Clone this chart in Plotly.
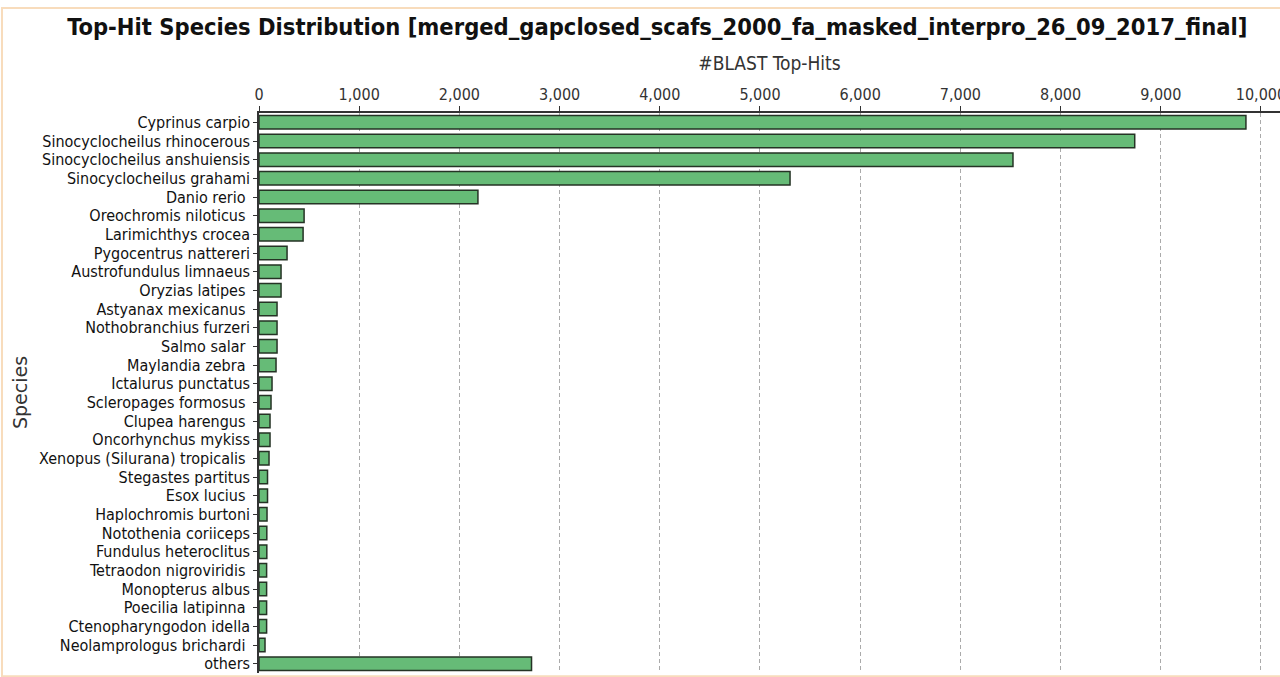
import plotly.graph_objects as go

species = [
    "Cyprinus carpio", "Sinocyclocheilus rhinocerous", "Sinocyclocheilus anshuiensis",
    "Sinocyclocheilus grahami", "Danio rerio ", "Oreochromis niloticus ",
    "Larimichthys crocea", "Pygocentrus nattereri", "Austrofundulus limnaeus",
    "Oryzias latipes ", "Astyanax mexicanus ", "Nothobranchius furzeri",
    "Salmo salar ", "Maylandia zebra ", "Ictalurus punctatus",
    "Scleropages formosus ", "Clupea harengus ", "Oncorhynchus mykiss",
    "Xenopus (Silurana) tropicalis ", "Stegastes partitus", "Esox lucius ",
    "Haplochromis burtoni", "Notothenia coriiceps", "Fundulus heteroclitus",
    "Tetraodon nigroviridis ", "Monopterus albus", "Poecilia latipinna ",
    "Ctenopharyngodon idella", "Neolamprologus brichardi ", "others",
]
top_hits = [
    9850, 8740, 7525, 5300, 2185, 450, 440, 280, 220, 220,
    180, 180, 180, 170, 130, 120, 110, 110, 100, 85,
    85, 80, 78, 78, 76, 76, 76, 76, 60, 2720,
]
x_ticks = [0, 1000, 2000, 3000, 4000, 5000, 6000, 7000, 8000, 9000, 10000]
x_tick_text = ["0", "1,000", "2,000", "3,000", "4,000", "5,000", "6,000",
               "7,000", "8,000", "9,000", "10,000"]

COND = "DejaVu Sans Condensed, DejaVu Sans, sans-serif"

fig = go.Figure(go.Bar(
    x=top_hits, y=species, orientation="h",
    marker=dict(color="#66bb77", line=dict(color="#253325", width=1.5)),
    width=0.72,
))

fig.update_layout(
    width=1280, height=677,
    margin=dict(l=259, r=0, t=113, b=4),
    paper_bgcolor="white", plot_bgcolor="white",
    showlegend=False,
    title=dict(
        text="<b>Top-Hit Species Distribution [merged_gapclosed_scafs_2000_fa_masked_interpro_26_09_2017_final]</b>",
        x=0.5135, xanchor="center", y=0.96, yanchor="middle",
        font=dict(family=COND, size=23.5, color="#111111"),
    ),
    font=dict(family=COND, size=16, color="#222222"),
)

fig.update_xaxes(
    side="top", range=[0, 10190], automargin=False,
    tickvals=x_ticks, ticktext=x_tick_text,
    tickfont=dict(family=COND, size=16, color="#333333"),
    ticklabeloverflow="allow",
    ticks="outside", ticklen=5, tickcolor="#333333",
    showline=True, linecolor="#333333", linewidth=1.5,
    showgrid=True, gridcolor="#aaaaaa", griddash="4px,3px", gridwidth=1,
    zeroline=False,
    title=dict(text="#BLAST Top-Hits", standoff=9,
               font=dict(family=COND, size=19, color="#333333")),
)

fig.update_yaxes(
    autorange=False, range=[29.5, -0.5], automargin=False,
    categoryorder="array", categoryarray=species,
    tickmode="array", tickvals=species, ticktext=species,
    tickfont=dict(family=COND, size=16, color="#111111"),
    ticks="outside", ticklen=4, tickcolor="#333333",
    showline=True, linecolor="#333333", linewidth=1.5,
    showgrid=False,
)

# y-axis title placed at the far left like the reference
fig.add_annotation(
    text="Species", textangle=-90, xref="paper", yref="paper",
    x=-0.234, y=0.5, xanchor="center", yanchor="middle", showarrow=False,
    font=dict(family="DejaVu Sans, sans-serif", size=19, color="#333333"),
)

# light peach page border
fig.add_shape(type="rect", xref="paper", yref="paper",
              x0=-0.2517, x1=1.05, y0=-0.006, y1=1.1875,
              line=dict(color="#f8dcbc", width=2), fillcolor="rgba(0,0,0,0)",
              layer="below")

fig.write_html(
    "out.html",
    config={"displayModeBar": False},
    post_script="document.body.style.margin='0';document.body.style.overflow='hidden';",
)
